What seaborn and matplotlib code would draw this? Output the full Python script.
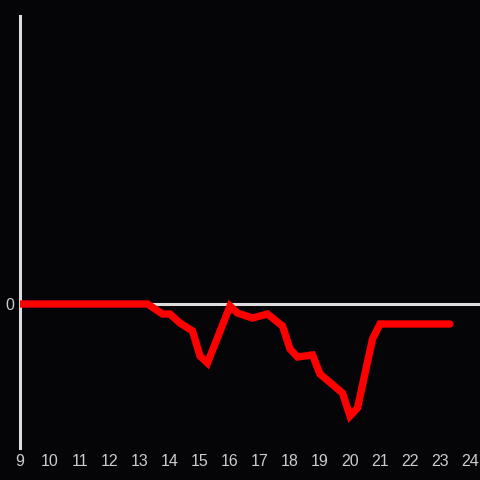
import matplotlib
matplotlib.use("Agg")
import matplotlib.pyplot as plt
import seaborn as sns
import pandas as pd

hours = [9.0, 13.25, 13.75, 14.0, 14.33, 14.75, 15.0, 15.25, 16.0, 16.25, 16.75,
         17.25, 17.75, 18.0, 18.25, 18.75, 19.0, 19.75, 20.0, 20.25, 20.75, 21.0, 23.33]
values = [0, 0, -1.0, -1.0, -1.9, -2.7, -5.2, -5.9, -0.2, -0.9, -1.4,
          -1.0, -2.2, -4.5, -5.3, -5.1, -7.0, -8.9, -11.2, -10.4, -3.5, -2.0, -2.0]
xticks = list(range(9, 25))

sns.set_style("dark")
plt.rcParams['font.family'] = ['Liberation Sans', 'DejaVu Sans']
bg = "#050407"
fig = plt.figure(figsize=(4.8, 4.8), dpi=100, facecolor=bg)
ax = fig.add_axes([20/480, 32/480, 460/480, 432/480])
ax.set_facecolor(bg)

df = pd.DataFrame({"hour": hours, "value": values})
ax.axhline(0, color="#dddddd", lw=2.2, zorder=1)
sns.lineplot(data=df, x="hour", y="value", ax=ax, color="#ff0000", lw=5.3,
             zorder=3, solid_joinstyle="miter")

ax.set_xlim(9, 9 + 460/30)
ax.set_ylim(-14.4, 28.8)
ax.set_xticks(xticks)
ax.set_xticklabels([str(t) for t in xticks])
ax.set_yticks([0])
ax.set_yticklabels(["0"])
ax.tick_params(colors="#cccccc", labelsize=11.5, length=0, pad=4)
ax.set_xlabel("")
ax.set_ylabel("")
ax.grid(False)
for s in ["top", "right", "bottom"]:
    ax.spines[s].set_visible(False)
ax.spines["left"].set_color("#dddddd")
ax.spines["left"].set_linewidth(2.2)

fig.savefig("out.png", dpi=100, facecolor=bg)
